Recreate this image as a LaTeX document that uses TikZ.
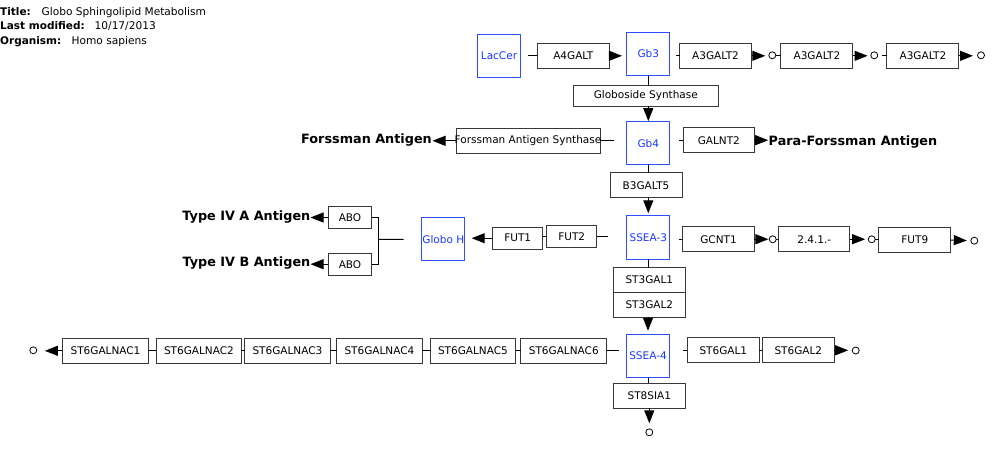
\documentclass[tikz,border=0pt]{standalone}
\usepackage{fontspec}
\setmainfont{DejaVu Sans}
\usetikzlibrary{arrows.meta}
\definecolor{metab}{RGB}{45,80,255}
\definecolor{metabtxt}{RGB}{25,55,255}
\begin{document}
\begin{tikzpicture}[x=1pt,y=-1pt,
  ebox/.style={draw=black!78, line width=1pt, fill=white, inner sep=0pt, outer sep=0pt,
    minimum width=72pt, minimum height=25pt, font=\fontsize{10.5}{12}\selectfont},
  nacbox/.style={ebox, minimum width=85.7pt},
  mbox/.style={draw=metab, line width=1pt, text=metabtxt, inner sep=0pt, outer sep=0pt,
    minimum width=43.3pt, minimum height=43.3pt, font=\fontsize{10.5}{12}\selectfont},
  endpt/.style={circle, draw=black, line width=0.8pt, inner sep=0pt, outer sep=0pt, minimum size=7pt},
  conn/.style={draw=black, line width=1pt},
  arr/.style={conn, -{Triangle[length=13pt,width=10pt]}},
  glabel/.style={inner sep=0pt, font=\fontsize{12.8}{15}\selectfont\bfseries},
  tkey/.style={anchor=base west, inner sep=0pt, font=\fontsize{10.5}{12}\selectfont\bfseries},
  tval/.style={anchor=base west, inner sep=0pt, font=\fontsize{10.6}{12}\selectfont}
]
\useasboundingbox (0,0) rectangle (1000,451);

% title block
\node[tkey] (t1k) at (0,15.5) {Title:};
\node[tval] (t1v) at (41.5,15.5) {Globo Sphingolipid Metabolism};
\node[tkey] (t2k) at (0,29.8) {Last modified:};
\node[tval] (t2v) at (94.5,29.8) {10/17/2013};
\node[tkey] (t3k) at (0,44.5) {Organism:};
\node[tval] (t3v) at (71.5,44.5) {Homo sapiens};

% metabolites
\node[mbox] (LacCer) at (499,55.7) {LacCer};
\node[mbox] (Gb3) at (648.3,54) {Gb3};
\node[mbox] (Gb4) at (648.3,143.3) {Gb4};
\node[mbox] (SSEA3) at (648.3,237.6) {SSEA-3};
\node[mbox] (GloboH) at (443.3,239.2) {Globo H};
\node[mbox] (SSEA4) at (648,356) {SSEA-4};

% enzymes
\node[ebox] (A4GALT) at (573.3,55.8) {A4GALT};
\node[ebox] (A3a) at (715.5,55.8) {A3GALT2};
\node[ebox] (A3b) at (816.9,55.8) {A3GALT2};
\node[ebox] (A3c) at (922.9,55.8) {A3GALT2};
\node[ebox, minimum width=145pt, minimum height=21pt] (GlobSyn) at (645.8,95.5) {Globoside Synthase};
\node[ebox, minimum width=144pt] (FAS) at (528,140.8) {};
\node[inner sep=0pt, font=\fontsize{10.5}{12}\selectfont] (FAStext) at (FAS.center) {Forssman Antigen Synthase};
\node[ebox, minimum width=71pt] (GALNT2) at (718.8,140.2) {GALNT2};
\node[ebox] (B3GALT5) at (646,185.3) {B3GALT5};
\node[ebox, minimum width=50pt, minimum height=21.7pt] (FUT1) at (517.7,238.2) {FUT1};
\node[ebox, minimum width=50pt, minimum height=21.7pt] (FUT2) at (571.7,236.8) {FUT2};
\node[ebox, minimum width=43.4pt, minimum height=21.6pt] (ABOa) at (350,217.5) {ABO};
\node[ebox, minimum width=43.4pt, minimum height=21.6pt] (ABOb) at (350,264.2) {ABO};
\node[ebox, minimum width=71.6pt] (GCNT1) at (718.5,239.2) {GCNT1};
\node[ebox, minimum width=71.3pt] (E2411) at (814.3,239.2) {2.4.1.-};
\node[ebox, minimum width=71.7pt] (FUT9) at (914.8,240) {FUT9};
\node[ebox] (ST3GAL1) at (649.3,279.8) {ST3GAL1};
\node[ebox] (ST3GAL2) at (649.3,304.8) {ST3GAL2};
\node[ebox] (ST6GAL1) at (723.3,350.3) {ST6GAL1};
\node[ebox] (ST6GAL2) at (798.3,350.3) {ST6GAL2};
\node[ebox] (ST8SIA1) at (649.3,395.8) {ST8SIA1};
\node[nacbox] (N1) at (105.5,350.8) {ST6GALNAC1};
\node[nacbox] (N2) at (198.9,350.8) {ST6GALNAC2};
\node[nacbox] (N3) at (287.4,350.8) {ST6GALNAC3};
\node[nacbox] (N4) at (379.4,350.8) {ST6GALNAC4};
\node[nacbox] (N5) at (472.9,350.8) {ST6GALNAC5};
\node[nacbox] (N6) at (563.8,350.8) {ST6GALNAC6};

% end points
\node[endpt] (c1) at (772.3,55.3) {};
\node[endpt] (c2) at (874.3,55.3) {};
\node[endpt] (c3) at (981,55.3) {};
\node[endpt] (c4) at (772.7,239.3) {};
\node[endpt] (c5) at (871.7,239.3) {};
\node[endpt] (c6) at (974.3,240.7) {};
\node[endpt] (c7) at (855.7,350.5) {};
\node[endpt] (c8) at (649.3,432.3) {};
\node[endpt] (c9) at (33.3,350.3) {};

% labels
\node[glabel, anchor=base east] (ForssAg) at (432,143) {Forssman Antigen};
\node[glabel, anchor=base west] (ParaF) at (768.5,145) {Para-Forssman Antigen};
\node[glabel, anchor=base east] (TypeA) at (310.5,220) {Type IV A Antigen};
\node[glabel, anchor=base east] (TypeB) at (310.5,266.5) {Type IV B Antigen};

\coordinate (jn) at (378.3,239.3);

% row 1
\draw[conn, shorten <=7.6pt] (LacCer.east |- A4GALT.west) -- (A4GALT.west);
\draw[arr, shorten >=4.7pt] (A4GALT.east) -- (A4GALT.east -| Gb3.west);
\draw[conn, shorten <=6pt] (Gb3.east |- A3a.west) -- (A3a.west);
\draw[arr, shorten >=3.5pt] (A3a.east) -- (A3a.east -| c1.west);
\draw[conn] (c1.east) -- (c1.east -| A3b.west);
\draw[arr, shorten >=3.2pt] (A3b.east) -- (A3b.east -| c2.west);
\draw[conn, shorten <=4pt] (c2.east) -- (c2.east -| A3c.west);
\draw[arr, shorten >=4.5pt] (A3c.east) -- (A3c.east -| c3.west);

% Gb3 -> Gb4
\draw[conn] (Gb3.south) -- (Gb3.south |- GlobSyn.north);
\draw[arr, shorten >=0.5pt] (Gb4.north |- GlobSyn.south) -- (Gb4.north);

% row 2
\draw[conn, shorten <=12.4pt] (Gb4.west |- FAS.east) -- (FAS.east);
\draw[arr, shorten >=0.5pt] (FAS.west) -- (FAS.west -| ForssAg.east);
\draw[conn, shorten <=9.3pt] (Gb4.east |- GALNT2.west) -- (GALNT2.west);
\draw[arr, shorten >=0.3pt] (GALNT2.east) -- (GALNT2.east -| ParaF.west);

% Gb4 -> SSEA-3
\draw[conn] (Gb4.south) -- (Gb4.south |- B3GALT5.north);
\draw[arr, shorten >=2.7pt] (SSEA3.north |- B3GALT5.south) -- (SSEA3.north);

% row 3 left
\draw[conn, shorten <=19pt] (SSEA3.west |- FUT2.east) -- (FUT2.east);
\draw[conn] (FUT2.west) -- (FUT2.west -| FUT1.east);
\draw[arr, shorten >=6.7pt] (FUT1.west) -- (FUT1.west -| GloboH.east);
\draw[conn, shorten <=18pt] (GloboH.west) -- (jn);
\draw[conn] (ABOa.east) -| (jn) |- (ABOb.east);
\draw[arr] (ABOa.west) -- (ABOa.west -| TypeA.east);
\draw[arr] (ABOb.west) -- (ABOb.west -| TypeB.east);

% row 3 right
\draw[conn, shorten <=8.7pt] (SSEA3.east |- GCNT1.west) -- (GCNT1.west);
\draw[arr, shorten >=0.8pt] (GCNT1.east) -- (GCNT1.east -| c4.west);
\draw[conn] (c4.east) -- (c4.east -| E2411.west);
\draw[arr, shorten >=3pt] (E2411.east) -- (E2411.east -| c5.west);
\draw[conn] (c5.east) -- (c5.east -| FUT9.west);
\draw[arr, shorten >=4pt] (FUT9.east) -- (c6.west);

% SSEA-3 -> SSEA-4
\draw[conn] (SSEA3.south) -- (SSEA3.south |- ST3GAL1.north);
\draw[arr, shorten >=3.6pt] (SSEA4.north |- ST3GAL2.south) -- (SSEA4.north);

% row 4 right
\draw[conn, shorten <=13.3pt] (SSEA4.east |- ST6GAL1.west) -- (ST6GAL1.west);
\draw[conn] (ST6GAL1.east) -- (ST6GAL2.west);
\draw[arr, shorten >=4pt] (ST6GAL2.east) -- (ST6GAL2.east -| c7.west);

% row 4 left
\draw[conn, shorten <=7.6pt] (SSEA4.west |- N6.east) -- (N6.east);
\draw[conn] (N6.west) -- (N5.east);
\draw[conn] (N5.west) -- (N4.east);
\draw[conn] (N4.west) -- (N3.east);
\draw[conn] (N3.west) -- (N2.east);
\draw[conn] (N2.west) -- (N1.east);
\draw[arr, shorten >=8pt] (N1.west) -- (N1.west -| c9.east);

% bottom
\draw[conn] (SSEA4.south) -- (SSEA4.south |- ST8SIA1.north);
\draw[arr, shorten >=5.5pt] (ST8SIA1.south) -- (ST8SIA1.south |- c8.north);
\end{tikzpicture}
\end{document}
